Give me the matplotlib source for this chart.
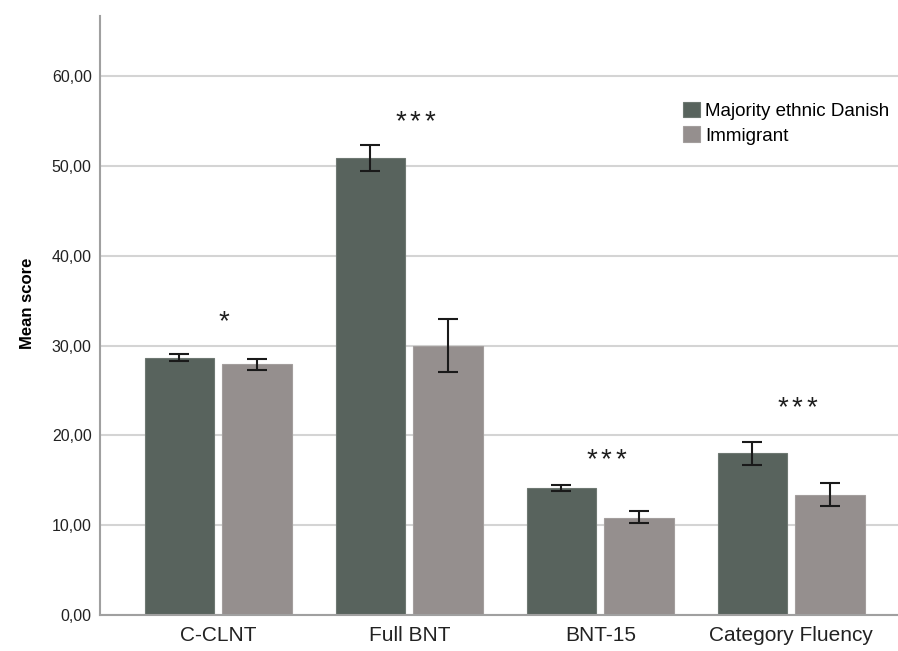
import numpy as np
import matplotlib
matplotlib.use("Agg")
import matplotlib.pyplot as plt

plt.rcParams['font.family'] = ['Liberation Sans', 'DejaVu Sans']

# data
tests = ['C-CLNT', 'Full BNT', 'BNT-15', 'Category Fluency']
danish_mean = [28.65, 50.85, 14.12, 18.0]
danish_lo = [28.3, 49.4, 13.8, 16.7]
danish_hi = [29.05, 52.3, 14.46, 19.3]
immig_mean = [27.9, 30.0, 10.85, 13.35]
immig_lo = [27.3, 27.1, 10.2, 12.1]
immig_hi = [28.5, 33.0, 11.6, 14.75]
n_stars = [1, 3, 3, 3]
star_y = [31.8, 54.1, 16.5, 22.3]   # baseline of the asterisks

dark = '#58635d'
light = '#958f8e'

fig = plt.figure(figsize=(8.98, 6.51), dpi=100)
ax = fig.add_axes([100/898, 1-615/651, 1-100/898, (615-16)/651])

x = np.arange(len(tests))
w = 0.366
off = 0.204

def errs(m, lo, hi):
    m = np.array(m)
    return [m - np.array(lo), np.array(hi) - m]

ax.bar(x - off, danish_mean, w, color=dark, edgecolor='#6e7872', linewidth=0.8,
       label='Majority ethnic Danish', zorder=2)
ax.bar(x + off, immig_mean, w, color=light, edgecolor='#a39e9d', linewidth=0.8,
       label='Immigrant', zorder=2)
ax.errorbar(x - off, danish_mean, yerr=errs(danish_mean, danish_lo, danish_hi),
            fmt='none', ecolor='#1a1a1a', elinewidth=1.5, capsize=7.5, capthick=1.5, zorder=3)
ax.errorbar(x + off, immig_mean, yerr=errs(immig_mean, immig_lo, immig_hi),
            fmt='none', ecolor='#1a1a1a', elinewidth=1.5, capsize=7.5, capthick=1.5, zorder=3)

# significance stars, a little spread apart like in the original
for i, (n, yv) in enumerate(zip(n_stars, star_y)):
    for k in range(n):
        dx = (k - (n - 1) / 2) * 10.5
        ax.annotate('*', (i + 0.03, yv), xytext=(dx, 0), textcoords='offset points',
                    ha='center', va='baseline', fontsize=20, color='#1e1e1e')

ax.set_xlim(-0.62, 3.558)
ax.set_ylim(0, 66.7)
ax.set_yticks(np.arange(0, 61, 10))
ax.set_yticklabels(['%d,00' % v for v in range(0, 61, 10)], fontsize=11.5)
ax.set_xticks(x)
ax.set_xticklabels(tests, fontsize=15)
ax.tick_params(axis='both', length=0, pad=6, colors='#222222')
ax.tick_params(axis='x', pad=8)
ax.yaxis.grid(True, color='#d4d4d4', linewidth=1.5, zorder=0)
ax.set_axisbelow(True)
for s in ['top', 'right']:
    ax.spines[s].set_visible(False)
for s in ['left', 'bottom']:
    ax.spines[s].set_color('#a0a0a0')
    ax.spines[s].set_linewidth(1.5)

ax.set_ylabel('Mean score', fontsize=12, fontweight='bold')
ax.yaxis.set_label_coords(-0.082, 0.521)

ax.legend(loc='upper left', bbox_to_anchor=(0.7306, 0.857), frameon=False, fontsize=13.5,
          handlelength=0.9, handleheight=0.9, handletextpad=0.27, labelspacing=0.35,
          borderaxespad=0, borderpad=0)

fig.savefig('out.png', dpi=100)
